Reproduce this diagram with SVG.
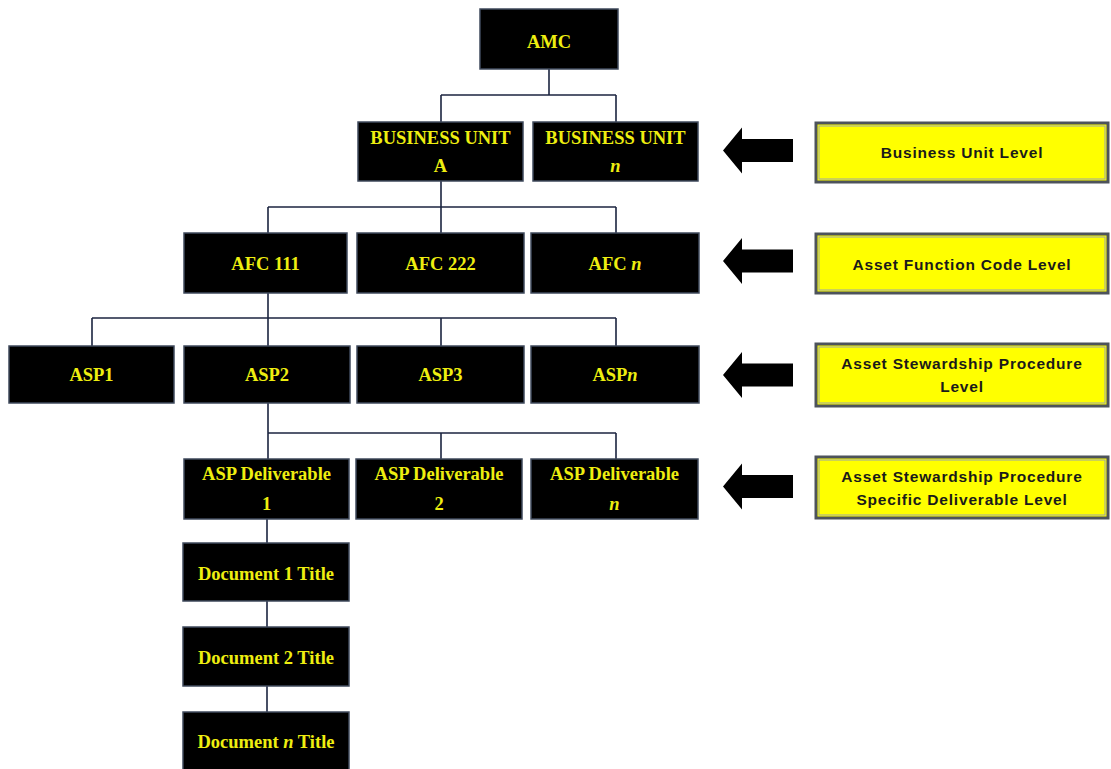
<svg xmlns="http://www.w3.org/2000/svg" width="1111" height="769" viewBox="0 0 1111 769">
  <style>
    .box { fill: #000; stroke: #3f4a5c; stroke-width: 1.5; }
    .lbl { font-family: "Liberation Serif", "Times New Roman", serif; font-weight: bold; font-size: 18.5px; fill: #eeee10; text-anchor: middle; }
    .lvl { fill: #ffff00; stroke: #4d535b; stroke-width: 3; }
    .lvl-in { fill: none; stroke: #9aa3ad; stroke-width: 1; }
    .lvl-t { font-family: "Liberation Sans", Arial, sans-serif; font-weight: bold; font-size: 15.5px; fill: #1a1a1a; text-anchor: middle; letter-spacing: 0.8px; }
    .wire { fill: none; stroke: #1c2540; stroke-width: 1.6; }
  </style>
  <defs>
    <!-- block arrow pointing left, centred on its own origin -->
    <polygon id="blockArrow" points="0,0 19,-23 19,-11.5 70,-11.5 70,11.5 19,11.5 19,23" fill="#000"/>
  </defs>
  <rect width="1111" height="769" fill="#fff"/>

  <!-- tree connectors -->
  <g id="connectors" class="wire">
    <path d="M549,69 V95 M441,95 H616 M441,95 V122 M616,95 V122"/>
    <path d="M441,181 V207 M268,207 H616 M268,207 V233 M441,207 V233 M616,207 V233"/>
    <path d="M268,293 V318 M92,318 H616 M92,318 V346 M268,318 V346 M441,318 V346 M616,318 V346"/>
    <path d="M268,403 V433 M268,433 H616 M268,433 V459 M441,433 V459 M616,433 V459"/>
    <path d="M267,519 V543 M267,601 V627 M267,686 V712"/>
  </g>

  <!-- hierarchy nodes -->
  <g id="amc"><rect class="box" x="480" y="9" width="138" height="60"/><text class="lbl" x="549" y="48">AMC</text></g>

  <g id="bu-a"><rect class="box" x="358" y="122" width="165" height="59"/><text class="lbl" x="440.5" y="144">BUSINESS UNIT</text><text class="lbl" x="440.5" y="172">A</text></g>
  <g id="bu-n"><rect class="box" x="533" y="122" width="165" height="59"/><text class="lbl" x="615.5" y="144">BUSINESS UNIT</text><text class="lbl" x="615.5" y="172" font-style="italic">n</text></g>

  <g id="afc-111"><rect class="box" x="184" y="233" width="163" height="60"/><text class="lbl" x="265.5" y="270">AFC 111</text></g>
  <g id="afc-222"><rect class="box" x="357" y="233" width="167" height="60"/><text class="lbl" x="440.5" y="270">AFC 222</text></g>
  <g id="afc-n"><rect class="box" x="531" y="233" width="168" height="60"/><text class="lbl" x="615" y="270">AFC <tspan font-style="italic">n</tspan></text></g>

  <g id="asp-1"><rect class="box" x="9" y="346" width="165" height="57"/><text class="lbl" x="91.5" y="381">ASP1</text></g>
  <g id="asp-2"><rect class="box" x="184" y="346" width="166" height="57"/><text class="lbl" x="267" y="381">ASP2</text></g>
  <g id="asp-3"><rect class="box" x="357" y="346" width="167" height="57"/><text class="lbl" x="440.5" y="381">ASP3</text></g>
  <g id="asp-n"><rect class="box" x="531" y="346" width="168" height="57"/><text class="lbl" x="615" y="381">ASP<tspan font-style="italic">n</tspan></text></g>

  <g id="del-1"><rect class="box" x="184" y="459" width="165" height="60"/><text class="lbl" x="266.5" y="480">ASP Deliverable</text><text class="lbl" x="266.5" y="510">1</text></g>
  <g id="del-2"><rect class="box" x="356" y="459" width="166" height="60"/><text class="lbl" x="439" y="480">ASP Deliverable</text><text class="lbl" x="439" y="510">2</text></g>
  <g id="del-n"><rect class="box" x="531" y="459" width="167" height="60"/><text class="lbl" x="614.5" y="480">ASP Deliverable</text><text class="lbl" x="614.5" y="510" font-style="italic">n</text></g>

  <g id="doc-1"><rect class="box" x="183" y="543" width="166" height="58"/><text class="lbl" x="266" y="580">Document 1 Title</text></g>
  <g id="doc-2"><rect class="box" x="183" y="627" width="166" height="59"/><text class="lbl" x="266" y="664">Document 2 Title</text></g>
  <g id="doc-n"><rect class="box" x="183" y="712" width="166" height="60"/><text class="lbl" x="266" y="748">Document <tspan font-style="italic">n</tspan> Title</text></g>

  <!-- level pointers -->
  <g id="level-arrows">
    <use href="#blockArrow" x="723" y="150.5"/>
    <use href="#blockArrow" x="723" y="261"/>
    <use href="#blockArrow" x="723" y="375"/>
    <use href="#blockArrow" x="723" y="486.5"/>
  </g>

  <!-- level legend boxes -->
  <g id="lvl-bu"><rect class="lvl" x="816" y="123" width="292" height="59"/><rect class="lvl-in" x="819" y="126" width="286" height="53"/><text class="lvl-t" x="962" y="158">Business Unit Level</text></g>
  <g id="lvl-afc"><rect class="lvl" x="816" y="234" width="292" height="59"/><rect class="lvl-in" x="819" y="237" width="286" height="53"/><text class="lvl-t" x="962" y="270">Asset Function Code Level</text></g>
  <g id="lvl-asp"><rect class="lvl" x="816" y="344" width="292" height="62"/><rect class="lvl-in" x="819" y="347" width="286" height="56"/><text class="lvl-t" x="962" y="369">Asset Stewardship Procedure</text><text class="lvl-t" x="962" y="392">Level</text></g>
  <g id="lvl-del"><rect class="lvl" x="816" y="457" width="292" height="61"/><rect class="lvl-in" x="819" y="460" width="286" height="55"/><text class="lvl-t" x="962" y="482">Asset Stewardship Procedure</text><text class="lvl-t" x="962" y="505">Specific Deliverable Level</text></g>
</svg>
